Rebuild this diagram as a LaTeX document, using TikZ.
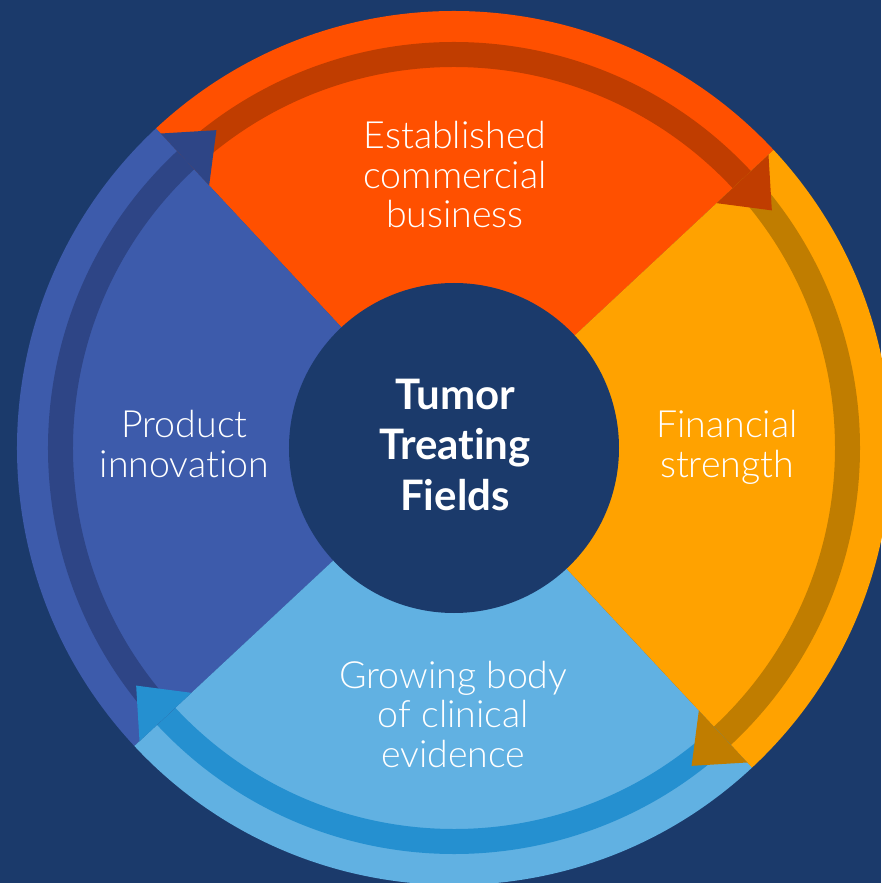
\documentclass[tikz,border=0pt]{standalone}
\usepackage{fontspec}
\usetikzlibrary{calc}
\IfFontExistsTF{Lato Light}{\newfontfamily\lblfont{Lato Light}[Ligatures=NoCommon]}{\newfontfamily\lblfont{Lato}[Ligatures=NoCommon]}
\newfontfamily\ctrfont{Lato}[Ligatures=NoCommon]
\definecolor{bgnavy}{HTML}{1B3A6B}
\definecolor{redorange}{HTML}{FF5000}
\definecolor{redorangedk}{HTML}{C03D00}
\definecolor{amber}{HTML}{FFA200}
\definecolor{amberdk}{HTML}{C07D00}
\definecolor{skyblue}{HTML}{61B1E2}
\definecolor{skybluedk}{HTML}{2590D0}
\definecolor{royal}{HTML}{3D5BAB}
\definecolor{royaldk}{HTML}{2E4586}
\newcommand\wedgefill[3]{\fill[#1] (0,0) -- (#2:437pt) arc[start angle=#2,end angle=#3,radius=437pt] -- cycle;}
\newcommand\shaftfill[3]{\fill[#1] (#2:381pt) arc[start angle=#2,end angle=#3,radius=381pt] -- (#3:406pt) arc[start angle=#3,end angle=#2,radius=406pt] -- cycle;}
\newcommand\headfill[2]{\fill[#1] (#2:359pt) -- (#2:430pt) -- ($(#2:394.5pt)+(#2-90:43pt)$) -- cycle;}
\begin{document}
\begin{tikzpicture}[x=1pt,y=1pt,
  lbl/.style={text=white,font=\lblfont\fontsize{37.5}{39.5}\selectfont,align=center,anchor=base,inner sep=0pt},
  ctr/.style={text=white,font=\ctrfont\bfseries\fontsize{42}{50.5}\selectfont,align=center,anchor=base,inner sep=0pt}]
\fill[bgnavy] (-454,-435) rectangle (427,448);
\useasboundingbox (-454,-435) rectangle (427,448);
% quadrants
\wedgefill{redorange}{43}{133}
\wedgefill{royal}{133}{223}
\wedgefill{skyblue}{223}{313}
\wedgefill{amber}{-47}{43}
% arrow shafts
\shaftfill{redorangedk}{133}{43}
\shaftfill{amberdk}{43}{-47}
\shaftfill{skybluedk}{-47}{-137}
\shaftfill{royaldk}{-137}{-227}
% arrow heads
\headfill{redorangedk}{43}
\headfill{amberdk}{-47}
\headfill{skybluedk}{-137}
\headfill{royaldk}{-227}
% centre
\node[circle,fill=bgnavy,minimum size=330pt,inner sep=0pt] (core) at (0,0) {};
\node[ctr] (ttf) at (1,-62) {Tumor\\Treating\\Fields};
\node[lbl] (est) at (1,220.3) {Established\\commercial\\business};
\node[lbl] (fin) at (273,-29.3) {Financial\\strength};
\node[lbl] (prod) at (-269.5,-29.3) {Product\\innovation};
\node[lbl] (grow) at (-0.7,-319.3) {Growing body\\of clinical\\evidence};
\end{tikzpicture}
\end{document}
